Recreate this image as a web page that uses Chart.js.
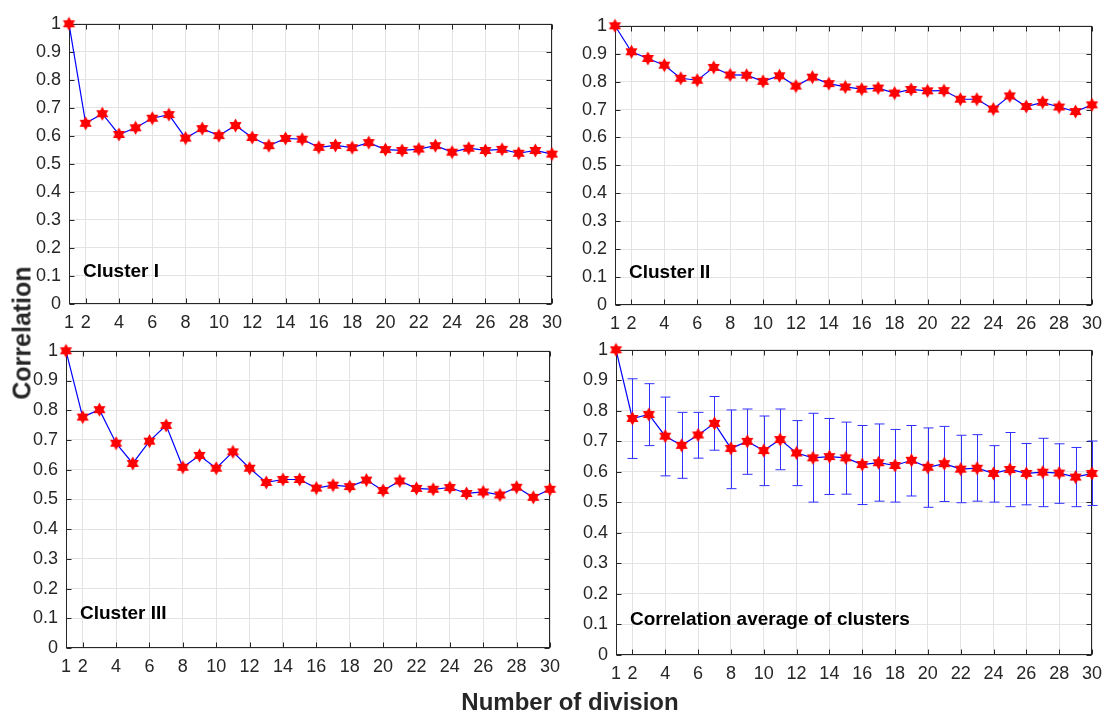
<!DOCTYPE html>
<html>
<head>
<meta charset="utf-8">
<script src="https://cdn.jsdelivr.net/npm/chart.js@4.4.1/dist/chart.umd.min.js"></script>
<style>
  body { margin: 0; background: #fff; }
  #wrap { position: relative; width: 1111px; height: 715px; font-family: "Liberation Sans", Arial, sans-serif; }
  #wrap canvas { position: absolute; }
  .axtitle { position: absolute; font-weight: bold; color: #262626; white-space: nowrap; }
</style>
</head>
<body>
<div id="wrap">
  <canvas id="c1"></canvas>
  <canvas id="c2"></canvas>
  <canvas id="c3"></canvas>
  <canvas id="c4"></canvas>
  <div class="axtitle" id="ytitle" style="left:22px; top:333px; font-size:25px; transform:translate(-50%,-50%) rotate(-90deg);">Correlation</div>
  <div class="axtitle" id="xtitle" style="left:570px; top:702px; font-size:24px; transform:translate(-50%,-50%);">Number of division</div>
</div>
<script>
// number of divisions (x values)
const divisions = [1, 2, 3, 4, 5, 6, 7, 8, 9, 10, 11, 12, 13, 14, 15,
                   16, 17, 18, 19, 20, 21, 22, 23, 24, 25, 26, 27, 28, 29, 30];
const xTickLabels = [1, 2, 4, 6, 8, 10, 12, 14, 16, 18, 20, 22, 24, 26, 28, 30];

const cluster1 = [1.0, 0.645, 0.679, 0.605, 0.629, 0.663, 0.676, 0.592, 0.626, 0.601,
                  0.637, 0.594, 0.565, 0.591, 0.588, 0.559, 0.566, 0.558, 0.576, 0.551,
                  0.548, 0.553, 0.565, 0.542, 0.556, 0.548, 0.552, 0.538, 0.548, 0.535];
const cluster2 = [1.0, 0.907, 0.883, 0.859, 0.812, 0.805, 0.851, 0.824, 0.823, 0.801,
                  0.821, 0.784, 0.816, 0.793, 0.781, 0.773, 0.777, 0.759, 0.772, 0.767,
                  0.768, 0.737, 0.737, 0.702, 0.749, 0.711, 0.726, 0.709, 0.693, 0.717];
const cluster3 = [1.0, 0.777, 0.802, 0.689, 0.621, 0.696, 0.749, 0.608, 0.648, 0.605,
                  0.660, 0.605, 0.557, 0.567, 0.567, 0.538, 0.548, 0.543, 0.565, 0.530,
                  0.562, 0.537, 0.534, 0.540, 0.520, 0.525, 0.515, 0.541, 0.507, 0.534];
const average  = [1.0, 0.775, 0.788, 0.717, 0.687, 0.721, 0.759, 0.677, 0.700, 0.670,
                  0.706, 0.662, 0.646, 0.650, 0.646, 0.624, 0.630, 0.621, 0.638, 0.615,
                  0.627, 0.609, 0.612, 0.595, 0.608, 0.595, 0.599, 0.596, 0.583, 0.595];
// error bar ends for the average panel
const avgUpper = [1.0, 0.905, 0.889, 0.845, 0.795, 0.795, 0.847, 0.803, 0.806, 0.783,
                  0.806, 0.768, 0.792, 0.775, 0.763, 0.752, 0.757, 0.739, 0.752, 0.744,
                  0.749, 0.720, 0.722, 0.686, 0.729, 0.693, 0.710, 0.692, 0.680, 0.701];
const avgLower = [1.0, 0.644, 0.686, 0.587, 0.579, 0.645, 0.671, 0.545, 0.592, 0.555,
                  0.607, 0.555, 0.501, 0.526, 0.527, 0.493, 0.504, 0.501, 0.521, 0.484,
                  0.503, 0.499, 0.504, 0.501, 0.486, 0.492, 0.486, 0.497, 0.486, 0.490];

Chart.defaults.font.family = '"Liberation Sans", Arial, sans-serif';

// red six-pointed star marker
function makeStar() {
  const s = 15, c = 7.5, r = 7;
  const cv = document.createElement('canvas');
  cv.width = s; cv.height = s;
  const g = cv.getContext('2d');
  g.fillStyle = '#ff0000';
  [-90, 90].forEach(start => {
    g.beginPath();
    for (let k = 0; k < 3; k++) {
      const a = (start + k * 120) * Math.PI / 180;
      const px = c + r * Math.cos(a), py = c + r * Math.sin(a);
      k === 0 ? g.moveTo(px, py) : g.lineTo(px, py);
    }
    g.closePath();
    g.fill();
  });
  return cv;
}
const star = makeStar();

// box around the plot with small inward ticks (matlab style)
const framePlugin = {
  id: 'frame',
  beforeDatasetsDraw(chart) {
    const { ctx, chartArea: a, scales } = chart;
    ctx.save();
    ctx.strokeStyle = '#262626';
    ctx.lineWidth = 1;
    const L = Math.round(a.left) + 0.5, R = Math.round(a.right) - 0.5;
    const T = Math.round(a.top) + 0.5, B = Math.round(a.bottom) - 0.5;
    ctx.strokeRect(L, T, R - L, B - T);
    ctx.beginPath();
    xTickLabels.forEach(v => {
      const x = Math.round(scales.x.getPixelForValue(v)) + 0.5;
      ctx.moveTo(x, B); ctx.lineTo(x, B - 5);
      ctx.moveTo(x, T); ctx.lineTo(x, T + 5);
    });
    for (let i = 0; i <= 10; i++) {
      const y = Math.round(scales.y.getPixelForValue(i / 10)) + 0.5;
      ctx.moveTo(L, y); ctx.lineTo(L + 5, y);
      ctx.moveTo(R, y); ctx.lineTo(R - 5, y);
    }
    ctx.stroke();
    ctx.restore();
  }
};

// panel label in the lower left corner
const labelPlugin = {
  id: 'panelLabel',
  afterDatasetsDraw(chart, args, opts) {
    const { ctx, chartArea: a, scales } = chart;
    ctx.save();
    ctx.font = 'bold 19px "Liberation Sans", Arial, sans-serif';
    ctx.fillStyle = '#000';
    ctx.textBaseline = 'middle';
    ctx.fillText(opts.text, a.left + 14, scales.y.getPixelForValue(0.115));
    ctx.restore();
  }
};

// vertical error bars with caps
const errorBarPlugin = {
  id: 'errorBars',
  beforeDatasetsDraw(chart, args, opts) {
    if (!opts.upper) return;
    const { ctx, scales } = chart;
    ctx.save();
    ctx.strokeStyle = '#3030ff';
    ctx.lineWidth = 1;
    ctx.beginPath();
    opts.upper.forEach((hi, i) => {
      const lo = opts.lower[i];
      if (hi === lo) return;
      const x = Math.round(scales.x.getPixelForValue(divisions[i])) + 0.5;
      const y1 = scales.y.getPixelForValue(hi), y2 = scales.y.getPixelForValue(lo);
      ctx.moveTo(x, y1); ctx.lineTo(x, y2);
      ctx.moveTo(x - 5, y1); ctx.lineTo(x + 5, y1);
      ctx.moveTo(x - 5, y2); ctx.lineTo(x + 5, y2);
    });
    ctx.stroke();
    ctx.restore();
  }
};

// plot area of each panel in page pixels
const panels = [
  { id: 'c1', L: 69,  R: 552,  T: 17,  B: 304, values: cluster1, text: 'Cluster I' },
  { id: 'c2', L: 615, R: 1092, T: 19,  B: 305, values: cluster2, text: 'Cluster II' },
  { id: 'c3', L: 66,  R: 550,  T: 344, B: 648, values: cluster3, text: 'Cluster III' },
  { id: 'c4', L: 616, R: 1092, T: 343, B: 655, values: average,  text: 'Correlation average of clusters',
    upper: avgUpper, lower: avgLower }
];

const yAxisW = 49, padTop = 12, padRight = 19, xAxisH = 36;

panels.forEach(p => {
  const cv = document.getElementById(p.id);
  cv.width = (p.R - p.L) + yAxisW + padRight;
  cv.height = (p.B - p.T) + padTop + xAxisH;
  cv.style.left = (p.L - yAxisW) + 'px';
  cv.style.top = (p.T - padTop) + 'px';

  new Chart(cv.getContext('2d'), {
    type: 'line',
    data: {
      datasets: [{
        data: divisions.map((d, i) => ({ x: d, y: p.values[i] })),
        borderColor: '#0000ff',
        borderWidth: 1.2,
        pointStyle: star,
        pointRadius: 7,
        tension: 0,
        clip: false
      }]
    },
    options: {
      responsive: false,
      animation: false,
      layout: { padding: { top: padTop, right: padRight, left: 0, bottom: 0 } },
      plugins: {
        legend: { display: false },
        tooltip: { enabled: false },
        panelLabel: { text: p.text },
        errorBars: { upper: p.upper, lower: p.lower }
      },
      scales: {
        x: {
          type: 'linear',
          min: 1,
          max: 30,
          afterBuildTicks: s => { s.ticks = xTickLabels.map(v => ({ value: v })); },
          afterFit: s => { s.height = xAxisH; s.paddingLeft = 0; s.paddingRight = 0; },
          grid: { color: '#e3e3e3', drawTicks: false },
          border: { display: false },
          ticks: { autoSkip: false, maxRotation: 0, padding: 8, color: '#262626',
                   font: { size: 18 }, callback: v => String(v) }
        },
        y: {
          min: 0,
          max: 1,
          afterFit: s => { s.width = yAxisW; },
          grid: { color: '#e3e3e3', drawTicks: false },
          border: { display: false },
          ticks: {
            stepSize: 0.1, padding: 8, color: '#262626', font: { size: 18 },
            callback: v => (Math.abs(v) < 1e-9 ? '0' : Math.abs(v - 1) < 1e-9 ? '1' : v.toFixed(1))
          }
        }
      }
    },
    plugins: [framePlugin, labelPlugin, errorBarPlugin]
  });
});
</script>
</body>
</html>
